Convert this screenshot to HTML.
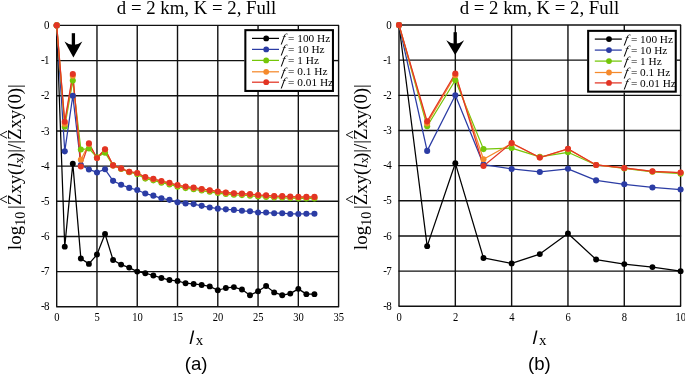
<!DOCTYPE html>
<html lang="en"><head><meta charset="utf-8"><title>Figure</title>
<style>
html,body{margin:0;padding:0;background:#fff;}
body{width:685px;height:374px;overflow:hidden;}
svg{display:block;font-family:"Liberation Serif",serif;fill:#000;}
</style></head><body>
<svg width="685" height="374" viewBox="0 0 685 374">
<rect width="685" height="374" fill="#fff"/>
<g id="plot-a">
<g stroke="#111" stroke-width="1.4" fill="none"><line x1="56.20" y1="25.40" x2="339.10" y2="25.40"/><line x1="56.70" y1="60.58" x2="244.40" y2="60.58"/><line x1="333.80" y1="60.58" x2="338.60" y2="60.58"/><line x1="56.20" y1="95.75" x2="339.10" y2="95.75"/><line x1="56.20" y1="130.93" x2="339.10" y2="130.93"/><line x1="56.20" y1="166.10" x2="339.10" y2="166.10"/><line x1="56.20" y1="201.28" x2="339.10" y2="201.28"/><line x1="56.20" y1="236.45" x2="339.10" y2="236.45"/><line x1="56.20" y1="271.62" x2="339.10" y2="271.62"/><line x1="56.20" y1="306.80" x2="339.10" y2="306.80"/><line x1="56.70" y1="25.40" x2="56.70" y2="306.80"/><line x1="96.97" y1="25.40" x2="96.97" y2="306.80"/><line x1="137.24" y1="25.40" x2="137.24" y2="306.80"/><line x1="177.51" y1="25.40" x2="177.51" y2="306.80"/><line x1="217.79" y1="25.40" x2="217.79" y2="306.80"/><line x1="258.06" y1="25.40" x2="258.06" y2="29.30"/><line x1="258.06" y1="91.70" x2="258.06" y2="306.80"/><line x1="298.33" y1="25.40" x2="298.33" y2="29.30"/><line x1="298.33" y1="91.70" x2="298.33" y2="306.80"/><line x1="338.60" y1="25.40" x2="338.60" y2="306.80"/></g>
<polyline points="56.70,25.40 64.75,246.65 72.81,163.64 80.86,258.43 88.92,263.89 96.97,254.57 105.03,233.99 113.08,260.02 121.13,264.59 129.19,267.58 137.24,271.62 145.30,273.21 153.35,275.49 161.41,277.96 169.46,280.07 177.51,280.95 185.57,283.23 193.62,283.94 201.68,284.99 209.73,286.40 217.79,290.27 225.84,287.98 233.89,287.10 241.95,289.56 250.00,295.19 258.06,291.32 266.11,286.05 274.17,292.38 282.22,295.19 290.27,293.61 298.33,288.86 306.38,294.14 314.44,294.14" fill="none" stroke="#000000" stroke-width="1.25" stroke-linejoin="round"/>
<polyline points="56.70,25.40 64.75,151.33 72.81,95.75 80.86,165.04 88.92,169.44 96.97,172.43 105.03,169.27 113.08,180.87 121.13,184.74 129.19,187.91 137.24,190.02 145.30,193.54 153.35,195.65 161.41,198.29 169.46,199.87 177.51,202.33 185.57,203.39 193.62,204.09 201.68,205.85 209.73,207.43 217.79,208.66 225.84,209.37 233.89,209.89 241.95,210.77 250.00,211.30 258.06,212.53 266.11,212.53 274.17,213.23 282.22,213.23 290.27,213.94 298.33,213.94 306.38,213.76 314.44,213.76" fill="none" stroke="#2b3ca4" stroke-width="1.25" stroke-linejoin="round"/>
<polyline points="56.70,25.40 64.75,126.70 72.81,80.62 80.86,149.57 88.92,148.51 96.97,157.31 105.03,152.73 113.08,165.40 121.13,168.91 129.19,172.26 137.24,174.19 145.30,178.59 153.35,180.35 161.41,182.63 169.46,184.39 177.51,186.68 185.57,188.08 193.62,189.14 201.68,190.55 209.73,191.78 217.79,193.01 225.84,194.06 233.89,194.77 241.95,195.12 250.00,195.65 258.06,196.53 266.11,196.88 274.17,197.58 282.22,197.76 290.27,198.11 298.33,198.46 306.38,198.46 314.44,198.46" fill="none" stroke="#74c608" stroke-width="1.25" stroke-linejoin="round"/>
<polyline points="56.70,25.40 64.75,123.89 72.81,75.70 80.86,159.77 88.92,143.94 96.97,158.01 105.03,149.57 113.08,165.40 121.13,168.56 129.19,171.90 137.24,173.31 145.30,177.43 153.35,179.19 161.41,181.47 169.46,183.23 177.51,185.52 185.57,186.92 193.62,187.98 201.68,189.39 209.73,190.62 217.79,191.85 225.84,192.90 233.89,193.61 241.95,193.96 250.00,194.49 258.06,195.37 266.11,195.72 274.17,196.42 282.22,196.60 290.27,196.95 298.33,197.30 306.38,197.30 314.44,197.30" fill="none" stroke="#f58a2c" stroke-width="1.25" stroke-linejoin="round"/>
<polyline points="56.70,25.40 64.75,121.78 72.81,73.94 80.86,166.45 88.92,143.41 96.97,158.01 105.03,149.22 113.08,165.40 121.13,168.39 129.19,171.73 137.24,172.96 145.30,177.00 153.35,178.76 161.41,181.05 169.46,182.81 177.51,185.09 185.57,186.50 193.62,187.56 201.68,188.96 209.73,190.19 217.79,191.43 225.84,192.48 233.89,193.18 241.95,193.54 250.00,194.06 258.06,194.94 266.11,195.30 274.17,196.00 282.22,196.17 290.27,196.53 298.33,196.88 306.38,196.88 314.44,196.88" fill="none" stroke="#e23424" stroke-width="1.25" stroke-linejoin="round"/>
<g fill="#000000"><circle cx="56.70" cy="25.40" r="2.9499999999999997"/><circle cx="64.75" cy="246.65" r="2.9499999999999997"/><circle cx="72.81" cy="163.64" r="2.9499999999999997"/><circle cx="80.86" cy="258.43" r="2.9499999999999997"/><circle cx="88.92" cy="263.89" r="2.9499999999999997"/><circle cx="96.97" cy="254.57" r="2.9499999999999997"/><circle cx="105.03" cy="233.99" r="2.9499999999999997"/><circle cx="113.08" cy="260.02" r="2.9499999999999997"/><circle cx="121.13" cy="264.59" r="2.9499999999999997"/><circle cx="129.19" cy="267.58" r="2.9499999999999997"/><circle cx="137.24" cy="271.62" r="2.9499999999999997"/><circle cx="145.30" cy="273.21" r="2.9499999999999997"/><circle cx="153.35" cy="275.49" r="2.9499999999999997"/><circle cx="161.41" cy="277.96" r="2.9499999999999997"/><circle cx="169.46" cy="280.07" r="2.9499999999999997"/><circle cx="177.51" cy="280.95" r="2.9499999999999997"/><circle cx="185.57" cy="283.23" r="2.9499999999999997"/><circle cx="193.62" cy="283.94" r="2.9499999999999997"/><circle cx="201.68" cy="284.99" r="2.9499999999999997"/><circle cx="209.73" cy="286.40" r="2.9499999999999997"/><circle cx="217.79" cy="290.27" r="2.9499999999999997"/><circle cx="225.84" cy="287.98" r="2.9499999999999997"/><circle cx="233.89" cy="287.10" r="2.9499999999999997"/><circle cx="241.95" cy="289.56" r="2.9499999999999997"/><circle cx="250.00" cy="295.19" r="2.9499999999999997"/><circle cx="258.06" cy="291.32" r="2.9499999999999997"/><circle cx="266.11" cy="286.05" r="2.9499999999999997"/><circle cx="274.17" cy="292.38" r="2.9499999999999997"/><circle cx="282.22" cy="295.19" r="2.9499999999999997"/><circle cx="290.27" cy="293.61" r="2.9499999999999997"/><circle cx="298.33" cy="288.86" r="2.9499999999999997"/><circle cx="306.38" cy="294.14" r="2.9499999999999997"/><circle cx="314.44" cy="294.14" r="2.9499999999999997"/></g>
<g fill="#2b3ca4"><circle cx="56.70" cy="25.40" r="3.05"/><circle cx="64.75" cy="151.33" r="3.05"/><circle cx="72.81" cy="95.75" r="3.05"/><circle cx="80.86" cy="165.04" r="3.05"/><circle cx="88.92" cy="169.44" r="3.05"/><circle cx="96.97" cy="172.43" r="3.05"/><circle cx="105.03" cy="169.27" r="3.05"/><circle cx="113.08" cy="180.87" r="3.05"/><circle cx="121.13" cy="184.74" r="3.05"/><circle cx="129.19" cy="187.91" r="3.05"/><circle cx="137.24" cy="190.02" r="3.05"/><circle cx="145.30" cy="193.54" r="3.05"/><circle cx="153.35" cy="195.65" r="3.05"/><circle cx="161.41" cy="198.29" r="3.05"/><circle cx="169.46" cy="199.87" r="3.05"/><circle cx="177.51" cy="202.33" r="3.05"/><circle cx="185.57" cy="203.39" r="3.05"/><circle cx="193.62" cy="204.09" r="3.05"/><circle cx="201.68" cy="205.85" r="3.05"/><circle cx="209.73" cy="207.43" r="3.05"/><circle cx="217.79" cy="208.66" r="3.05"/><circle cx="225.84" cy="209.37" r="3.05"/><circle cx="233.89" cy="209.89" r="3.05"/><circle cx="241.95" cy="210.77" r="3.05"/><circle cx="250.00" cy="211.30" r="3.05"/><circle cx="258.06" cy="212.53" r="3.05"/><circle cx="266.11" cy="212.53" r="3.05"/><circle cx="274.17" cy="213.23" r="3.05"/><circle cx="282.22" cy="213.23" r="3.05"/><circle cx="290.27" cy="213.94" r="3.05"/><circle cx="298.33" cy="213.94" r="3.05"/><circle cx="306.38" cy="213.76" r="3.05"/><circle cx="314.44" cy="213.76" r="3.05"/></g>
<g fill="#74c608"><circle cx="56.70" cy="25.40" r="3.05"/><circle cx="64.75" cy="126.70" r="3.05"/><circle cx="72.81" cy="80.62" r="3.05"/><circle cx="80.86" cy="149.57" r="3.05"/><circle cx="88.92" cy="148.51" r="3.05"/><circle cx="96.97" cy="157.31" r="3.05"/><circle cx="105.03" cy="152.73" r="3.05"/><circle cx="113.08" cy="165.40" r="3.05"/><circle cx="121.13" cy="168.91" r="3.05"/><circle cx="129.19" cy="172.26" r="3.05"/><circle cx="137.24" cy="174.19" r="3.05"/><circle cx="145.30" cy="178.59" r="3.05"/><circle cx="153.35" cy="180.35" r="3.05"/><circle cx="161.41" cy="182.63" r="3.05"/><circle cx="169.46" cy="184.39" r="3.05"/><circle cx="177.51" cy="186.68" r="3.05"/><circle cx="185.57" cy="188.08" r="3.05"/><circle cx="193.62" cy="189.14" r="3.05"/><circle cx="201.68" cy="190.55" r="3.05"/><circle cx="209.73" cy="191.78" r="3.05"/><circle cx="217.79" cy="193.01" r="3.05"/><circle cx="225.84" cy="194.06" r="3.05"/><circle cx="233.89" cy="194.77" r="3.05"/><circle cx="241.95" cy="195.12" r="3.05"/><circle cx="250.00" cy="195.65" r="3.05"/><circle cx="258.06" cy="196.53" r="3.05"/><circle cx="266.11" cy="196.88" r="3.05"/><circle cx="274.17" cy="197.58" r="3.05"/><circle cx="282.22" cy="197.76" r="3.05"/><circle cx="290.27" cy="198.11" r="3.05"/><circle cx="298.33" cy="198.46" r="3.05"/><circle cx="306.38" cy="198.46" r="3.05"/><circle cx="314.44" cy="198.46" r="3.05"/></g>
<g fill="#f58a2c"><circle cx="56.70" cy="25.40" r="3.05"/><circle cx="64.75" cy="123.89" r="3.05"/><circle cx="72.81" cy="75.70" r="3.05"/><circle cx="80.86" cy="159.77" r="3.05"/><circle cx="88.92" cy="143.94" r="3.05"/><circle cx="96.97" cy="158.01" r="3.05"/><circle cx="105.03" cy="149.57" r="3.05"/><circle cx="113.08" cy="165.40" r="3.05"/><circle cx="121.13" cy="168.56" r="3.05"/><circle cx="129.19" cy="171.90" r="3.05"/><circle cx="137.24" cy="173.31" r="3.05"/><circle cx="145.30" cy="177.43" r="3.05"/><circle cx="153.35" cy="179.19" r="3.05"/><circle cx="161.41" cy="181.47" r="3.05"/><circle cx="169.46" cy="183.23" r="3.05"/><circle cx="177.51" cy="185.52" r="3.05"/><circle cx="185.57" cy="186.92" r="3.05"/><circle cx="193.62" cy="187.98" r="3.05"/><circle cx="201.68" cy="189.39" r="3.05"/><circle cx="209.73" cy="190.62" r="3.05"/><circle cx="217.79" cy="191.85" r="3.05"/><circle cx="225.84" cy="192.90" r="3.05"/><circle cx="233.89" cy="193.61" r="3.05"/><circle cx="241.95" cy="193.96" r="3.05"/><circle cx="250.00" cy="194.49" r="3.05"/><circle cx="258.06" cy="195.37" r="3.05"/><circle cx="266.11" cy="195.72" r="3.05"/><circle cx="274.17" cy="196.42" r="3.05"/><circle cx="282.22" cy="196.60" r="3.05"/><circle cx="290.27" cy="196.95" r="3.05"/><circle cx="298.33" cy="197.30" r="3.05"/><circle cx="306.38" cy="197.30" r="3.05"/><circle cx="314.44" cy="197.30" r="3.05"/></g>
<g fill="#e23424"><circle cx="56.70" cy="25.40" r="3.05"/><circle cx="64.75" cy="121.78" r="3.05"/><circle cx="72.81" cy="73.94" r="3.05"/><circle cx="80.86" cy="166.45" r="3.05"/><circle cx="88.92" cy="143.41" r="3.05"/><circle cx="96.97" cy="158.01" r="3.05"/><circle cx="105.03" cy="149.22" r="3.05"/><circle cx="113.08" cy="165.40" r="3.05"/><circle cx="121.13" cy="168.39" r="3.05"/><circle cx="129.19" cy="171.73" r="3.05"/><circle cx="137.24" cy="172.96" r="3.05"/><circle cx="145.30" cy="177.00" r="3.05"/><circle cx="153.35" cy="178.76" r="3.05"/><circle cx="161.41" cy="181.05" r="3.05"/><circle cx="169.46" cy="182.81" r="3.05"/><circle cx="177.51" cy="185.09" r="3.05"/><circle cx="185.57" cy="186.50" r="3.05"/><circle cx="193.62" cy="187.56" r="3.05"/><circle cx="201.68" cy="188.96" r="3.05"/><circle cx="209.73" cy="190.19" r="3.05"/><circle cx="217.79" cy="191.43" r="3.05"/><circle cx="225.84" cy="192.48" r="3.05"/><circle cx="233.89" cy="193.18" r="3.05"/><circle cx="241.95" cy="193.54" r="3.05"/><circle cx="250.00" cy="194.06" r="3.05"/><circle cx="258.06" cy="194.94" r="3.05"/><circle cx="266.11" cy="195.30" r="3.05"/><circle cx="274.17" cy="196.00" r="3.05"/><circle cx="282.22" cy="196.17" r="3.05"/><circle cx="290.27" cy="196.53" r="3.05"/><circle cx="298.33" cy="196.88" r="3.05"/><circle cx="306.38" cy="196.88" r="3.05"/><circle cx="314.44" cy="196.88" r="3.05"/></g>
<g fill="#000"><rect x="71.75" y="33.2" width="3.3" height="13.30"/><path d="M73.40 57.4 L64.50 41.5 Q73.40 48.50 82.30 41.5 Z"/></g>
<rect x="245.35" y="30.15" width="87.60" height="60.80" fill="#fff" stroke="#000" stroke-width="2.05"/>
<line x1="252.00" y1="38.40" x2="279.00" y2="38.40" stroke="#000000" stroke-width="1.25"/><circle cx="266.20" cy="38.40" r="2.9" fill="#000000"/><text transform="translate(281.10,42.20) skewX(-10) scale(1.1,1)" font-size="12" font-style="italic">f</text><text x="288.10" y="42.00" font-size="11.3">= 100 Hz</text>
<line x1="252.00" y1="49.40" x2="279.00" y2="49.40" stroke="#2b3ca4" stroke-width="1.25"/><circle cx="266.20" cy="49.40" r="2.9" fill="#2b3ca4"/><text transform="translate(281.10,53.20) skewX(-10) scale(1.1,1)" font-size="12" font-style="italic">f</text><text x="288.10" y="53.00" font-size="11.3">= 10 Hz</text>
<line x1="252.00" y1="60.40" x2="279.00" y2="60.40" stroke="#74c608" stroke-width="1.25"/><circle cx="266.20" cy="60.40" r="2.9" fill="#74c608"/><text transform="translate(281.10,64.20) skewX(-10) scale(1.1,1)" font-size="12" font-style="italic">f</text><text x="288.10" y="64.00" font-size="11.3">= 1 Hz</text>
<line x1="252.00" y1="71.80" x2="279.00" y2="71.80" stroke="#f58a2c" stroke-width="1.25"/><circle cx="266.20" cy="71.80" r="2.9" fill="#f58a2c"/><text transform="translate(281.10,75.60) skewX(-10) scale(1.1,1)" font-size="12" font-style="italic">f</text><text x="288.10" y="75.40" font-size="11.3">= 0.1 Hz</text>
<line x1="252.00" y1="82.20" x2="279.00" y2="82.20" stroke="#e23424" stroke-width="1.25"/><circle cx="266.20" cy="82.20" r="2.9" fill="#e23424"/><text transform="translate(281.10,86.00) skewX(-10) scale(1.1,1)" font-size="12" font-style="italic">f</text><text x="288.10" y="85.80" font-size="11.3">= 0.01 Hz</text>
<text transform="translate(49.40,29.00) scale(0.92,1)" font-size="12" text-anchor="end">0</text>
<text transform="translate(49.40,64.17) scale(0.92,1)" font-size="12" text-anchor="end">-<tspan dx="-0.9">1</tspan></text>
<text transform="translate(49.40,99.35) scale(0.92,1)" font-size="12" text-anchor="end">-<tspan dx="-0.9">2</tspan></text>
<text transform="translate(49.40,134.53) scale(0.92,1)" font-size="12" text-anchor="end">-<tspan dx="-0.9">3</tspan></text>
<text transform="translate(49.40,169.70) scale(0.92,1)" font-size="12" text-anchor="end">-<tspan dx="-0.9">4</tspan></text>
<text transform="translate(49.40,204.88) scale(0.92,1)" font-size="12" text-anchor="end">-<tspan dx="-0.9">5</tspan></text>
<text transform="translate(49.40,240.05) scale(0.92,1)" font-size="12" text-anchor="end">-<tspan dx="-0.9">6</tspan></text>
<text transform="translate(49.40,275.23) scale(0.92,1)" font-size="12" text-anchor="end">-<tspan dx="-0.9">7</tspan></text>
<text transform="translate(49.40,310.40) scale(0.92,1)" font-size="12" text-anchor="end">-<tspan dx="-0.9">8</tspan></text>
<text transform="translate(56.90,321.1) scale(0.88,1)" font-size="12" text-anchor="middle">0</text>
<text transform="translate(97.17,321.1) scale(0.88,1)" font-size="12" text-anchor="middle">5</text>
<text transform="translate(137.44,321.1) scale(0.88,1)" font-size="12" text-anchor="middle">10</text>
<text transform="translate(177.71,321.1) scale(0.88,1)" font-size="12" text-anchor="middle">15</text>
<text transform="translate(217.99,321.1) scale(0.88,1)" font-size="12" text-anchor="middle">20</text>
<text transform="translate(258.26,321.1) scale(0.88,1)" font-size="12" text-anchor="middle">25</text>
<text transform="translate(298.53,321.1) scale(0.88,1)" font-size="12" text-anchor="middle">30</text>
<text transform="translate(338.80,321.1) scale(0.88,1)" font-size="12" text-anchor="middle">35</text>
<text x="196.60" y="13.9" font-size="18.8" text-anchor="middle">d = 2 km, K = 2, Full</text>
<text transform="translate(189.15,343.8) skewX(-2)" font-size="18.6" font-family="'Liberation Sans',sans-serif" font-style="italic">l</text>
<text x="195.85" y="345.1" font-size="15">x</text>
<text x="196.15" y="370.3" font-size="18.6" font-family="'Liberation Sans',sans-serif" text-anchor="middle">(a)</text>
<g transform="translate(21.20,249.9) rotate(-90)"><text class="yl" x="0" y="0" font-size="18.8">log<tspan font-size="14" dx="0.2" dy="3.7">10</tspan><tspan dy="-3.7" dx="2.8">|Zxy(</tspan><tspan font-style="italic" dx="0.3">l</tspan><tspan font-size="12.5" dy="1.3" dx="-0.3">x</tspan><tspan dy="-1.3" dx="-1.9">)|/|Zxy(0)|</tspan></text><text transform="translate(46.3,-11.4) scale(1,0.8)" font-size="18">^</text><text transform="translate(111.0,-11.4) scale(1,0.8)" font-size="18">^</text></g>
</g>
<g id="plot-b">
<g stroke="#111" stroke-width="1.4" fill="none"><line x1="398.50" y1="25.00" x2="681.10" y2="25.00"/><line x1="399.00" y1="60.16" x2="587.20" y2="60.16"/><line x1="676.60" y1="60.16" x2="680.60" y2="60.16"/><line x1="398.50" y1="95.33" x2="681.10" y2="95.33"/><line x1="398.50" y1="130.49" x2="681.10" y2="130.49"/><line x1="398.50" y1="165.65" x2="681.10" y2="165.65"/><line x1="398.50" y1="200.81" x2="681.10" y2="200.81"/><line x1="398.50" y1="235.98" x2="681.10" y2="235.98"/><line x1="398.50" y1="271.14" x2="681.10" y2="271.14"/><line x1="398.50" y1="306.30" x2="681.10" y2="306.30"/><line x1="399.00" y1="25.00" x2="399.00" y2="306.30"/><line x1="455.32" y1="25.00" x2="455.32" y2="306.30"/><line x1="511.64" y1="25.00" x2="511.64" y2="306.30"/><line x1="567.96" y1="25.00" x2="567.96" y2="306.30"/><line x1="624.28" y1="25.00" x2="624.28" y2="30.00"/><line x1="624.28" y1="92.40" x2="624.28" y2="306.30"/><line x1="680.60" y1="25.00" x2="680.60" y2="306.30"/></g>
<polyline points="399.00,25.00 427.16,246.17 455.32,163.19 483.48,257.95 511.64,263.40 539.80,254.08 567.96,233.51 596.12,259.53 624.28,264.11 652.44,267.09 680.60,271.14" fill="none" stroke="#000000" stroke-width="1.25" stroke-linejoin="round"/>
<polyline points="399.00,25.00 427.16,150.88 455.32,95.33 483.48,164.60 511.64,168.99 539.80,171.98 567.96,168.81 596.12,180.42 624.28,184.29 652.44,187.45 680.60,189.56" fill="none" stroke="#2b3ca4" stroke-width="1.25" stroke-linejoin="round"/>
<polyline points="399.00,25.00 427.16,126.27 455.32,80.21 483.48,149.12 511.64,148.07 539.80,156.86 567.96,152.29 596.12,164.95 624.28,168.46 652.44,171.80 680.60,173.74" fill="none" stroke="#74c608" stroke-width="1.25" stroke-linejoin="round"/>
<polyline points="399.00,25.00 427.16,123.45 455.32,75.28 483.48,159.32 511.64,143.50 539.80,157.56 567.96,149.12 596.12,164.95 624.28,168.11 652.44,171.45 680.60,172.86" fill="none" stroke="#f58a2c" stroke-width="1.25" stroke-linejoin="round"/>
<polyline points="399.00,25.00 427.16,121.35 455.32,73.52 483.48,166.00 511.64,142.97 539.80,157.56 567.96,148.77 596.12,164.95 624.28,167.94 652.44,171.28 680.60,172.51" fill="none" stroke="#e23424" stroke-width="1.25" stroke-linejoin="round"/>
<g fill="#000000"><circle cx="399.00" cy="25.00" r="2.9499999999999997"/><circle cx="427.16" cy="246.17" r="2.9499999999999997"/><circle cx="455.32" cy="163.19" r="2.9499999999999997"/><circle cx="483.48" cy="257.95" r="2.9499999999999997"/><circle cx="511.64" cy="263.40" r="2.9499999999999997"/><circle cx="539.80" cy="254.08" r="2.9499999999999997"/><circle cx="567.96" cy="233.51" r="2.9499999999999997"/><circle cx="596.12" cy="259.53" r="2.9499999999999997"/><circle cx="624.28" cy="264.11" r="2.9499999999999997"/><circle cx="652.44" cy="267.09" r="2.9499999999999997"/><circle cx="680.60" cy="271.14" r="2.9499999999999997"/></g>
<g fill="#2b3ca4"><circle cx="399.00" cy="25.00" r="3.05"/><circle cx="427.16" cy="150.88" r="3.05"/><circle cx="455.32" cy="95.33" r="3.05"/><circle cx="483.48" cy="164.60" r="3.05"/><circle cx="511.64" cy="168.99" r="3.05"/><circle cx="539.80" cy="171.98" r="3.05"/><circle cx="567.96" cy="168.81" r="3.05"/><circle cx="596.12" cy="180.42" r="3.05"/><circle cx="624.28" cy="184.29" r="3.05"/><circle cx="652.44" cy="187.45" r="3.05"/><circle cx="680.60" cy="189.56" r="3.05"/></g>
<g fill="#74c608"><circle cx="399.00" cy="25.00" r="3.05"/><circle cx="427.16" cy="126.27" r="3.05"/><circle cx="455.32" cy="80.21" r="3.05"/><circle cx="483.48" cy="149.12" r="3.05"/><circle cx="511.64" cy="148.07" r="3.05"/><circle cx="539.80" cy="156.86" r="3.05"/><circle cx="567.96" cy="152.29" r="3.05"/><circle cx="596.12" cy="164.95" r="3.05"/><circle cx="624.28" cy="168.46" r="3.05"/><circle cx="652.44" cy="171.80" r="3.05"/><circle cx="680.60" cy="173.74" r="3.05"/></g>
<g fill="#f58a2c"><circle cx="399.00" cy="25.00" r="3.05"/><circle cx="427.16" cy="123.45" r="3.05"/><circle cx="455.32" cy="75.28" r="3.05"/><circle cx="483.48" cy="159.32" r="3.05"/><circle cx="511.64" cy="143.50" r="3.05"/><circle cx="539.80" cy="157.56" r="3.05"/><circle cx="567.96" cy="149.12" r="3.05"/><circle cx="596.12" cy="164.95" r="3.05"/><circle cx="624.28" cy="168.11" r="3.05"/><circle cx="652.44" cy="171.45" r="3.05"/><circle cx="680.60" cy="172.86" r="3.05"/></g>
<g fill="#e23424"><circle cx="399.00" cy="25.00" r="3.05"/><circle cx="427.16" cy="121.35" r="3.05"/><circle cx="455.32" cy="73.52" r="3.05"/><circle cx="483.48" cy="166.00" r="3.05"/><circle cx="511.64" cy="142.97" r="3.05"/><circle cx="539.80" cy="157.56" r="3.05"/><circle cx="567.96" cy="148.77" r="3.05"/><circle cx="596.12" cy="164.95" r="3.05"/><circle cx="624.28" cy="167.94" r="3.05"/><circle cx="652.44" cy="171.28" r="3.05"/><circle cx="680.60" cy="172.51" r="3.05"/></g>
<g fill="#000"><rect x="453.55" y="32.2" width="3.3" height="13.00"/><path d="M455.20 55.0 L446.30 40.2 Q455.20 47.20 464.10 40.2 Z"/></g>
<rect x="588.15" y="30.85" width="87.60" height="60.80" fill="#fff" stroke="#000" stroke-width="2.05"/>
<line x1="594.80" y1="39.10" x2="621.80" y2="39.10" stroke="#000000" stroke-width="1.25"/><circle cx="609.00" cy="39.10" r="2.9" fill="#000000"/><text transform="translate(623.90,42.90) skewX(-10) scale(1.1,1)" font-size="12" font-style="italic">f</text><text x="630.90" y="42.70" font-size="11.3">= 100 Hz</text>
<line x1="594.80" y1="50.10" x2="621.80" y2="50.10" stroke="#2b3ca4" stroke-width="1.25"/><circle cx="609.00" cy="50.10" r="2.9" fill="#2b3ca4"/><text transform="translate(623.90,53.90) skewX(-10) scale(1.1,1)" font-size="12" font-style="italic">f</text><text x="630.90" y="53.70" font-size="11.3">= 10 Hz</text>
<line x1="594.80" y1="61.10" x2="621.80" y2="61.10" stroke="#74c608" stroke-width="1.25"/><circle cx="609.00" cy="61.10" r="2.9" fill="#74c608"/><text transform="translate(623.90,64.90) skewX(-10) scale(1.1,1)" font-size="12" font-style="italic">f</text><text x="630.90" y="64.70" font-size="11.3">= 1 Hz</text>
<line x1="594.80" y1="72.50" x2="621.80" y2="72.50" stroke="#f58a2c" stroke-width="1.25"/><circle cx="609.00" cy="72.50" r="2.9" fill="#f58a2c"/><text transform="translate(623.90,76.30) skewX(-10) scale(1.1,1)" font-size="12" font-style="italic">f</text><text x="630.90" y="76.10" font-size="11.3">= 0.1 Hz</text>
<line x1="594.80" y1="82.90" x2="621.80" y2="82.90" stroke="#e23424" stroke-width="1.25"/><circle cx="609.00" cy="82.90" r="2.9" fill="#e23424"/><text transform="translate(623.90,86.70) skewX(-10) scale(1.1,1)" font-size="12" font-style="italic">f</text><text x="630.90" y="86.50" font-size="11.3">= 0.01 Hz</text>
<text transform="translate(391.70,28.60) scale(0.92,1)" font-size="12" text-anchor="end">0</text>
<text transform="translate(391.70,63.76) scale(0.92,1)" font-size="12" text-anchor="end">-<tspan dx="-0.9">1</tspan></text>
<text transform="translate(391.70,98.92) scale(0.92,1)" font-size="12" text-anchor="end">-<tspan dx="-0.9">2</tspan></text>
<text transform="translate(391.70,134.09) scale(0.92,1)" font-size="12" text-anchor="end">-<tspan dx="-0.9">3</tspan></text>
<text transform="translate(391.70,169.25) scale(0.92,1)" font-size="12" text-anchor="end">-<tspan dx="-0.9">4</tspan></text>
<text transform="translate(391.70,204.41) scale(0.92,1)" font-size="12" text-anchor="end">-<tspan dx="-0.9">5</tspan></text>
<text transform="translate(391.70,239.58) scale(0.92,1)" font-size="12" text-anchor="end">-<tspan dx="-0.9">6</tspan></text>
<text transform="translate(391.70,274.74) scale(0.92,1)" font-size="12" text-anchor="end">-<tspan dx="-0.9">7</tspan></text>
<text transform="translate(391.70,309.90) scale(0.92,1)" font-size="12" text-anchor="end">-<tspan dx="-0.9">8</tspan></text>
<text transform="translate(399.20,321.1) scale(0.88,1)" font-size="12" text-anchor="middle">0</text>
<text transform="translate(455.52,321.1) scale(0.88,1)" font-size="12" text-anchor="middle">2</text>
<text transform="translate(511.84,321.1) scale(0.88,1)" font-size="12" text-anchor="middle">4</text>
<text transform="translate(568.16,321.1) scale(0.88,1)" font-size="12" text-anchor="middle">6</text>
<text transform="translate(624.48,321.1) scale(0.88,1)" font-size="12" text-anchor="middle">8</text>
<text transform="translate(680.80,321.1) scale(0.88,1)" font-size="12" text-anchor="middle">10</text>
<text x="539.40" y="13.9" font-size="18.8" text-anchor="middle">d = 2 km, K = 2, Full</text>
<text transform="translate(532.40,343.8) skewX(-2)" font-size="18.6" font-family="'Liberation Sans',sans-serif" font-style="italic">l</text>
<text x="539.10" y="345.1" font-size="15">x</text>
<text x="539.40" y="370.3" font-size="18.6" font-family="'Liberation Sans',sans-serif" text-anchor="middle">(b)</text>
<g transform="translate(367.00,249.9) rotate(-90)"><text class="yl" x="0" y="0" font-size="18.8">log<tspan font-size="14" dx="0.2" dy="3.7">10</tspan><tspan dy="-3.7" dx="2.8">|Zxy(</tspan><tspan font-style="italic" dx="0.3">l</tspan><tspan font-size="12.5" dy="1.3" dx="-0.3">x</tspan><tspan dy="-1.3" dx="-1.9">)|/|Zxy(0)|</tspan></text><text transform="translate(46.3,-11.4) scale(1,0.8)" font-size="18">^</text><text transform="translate(111.0,-11.4) scale(1,0.8)" font-size="18">^</text></g>
</g>
</svg>
</body></html>
